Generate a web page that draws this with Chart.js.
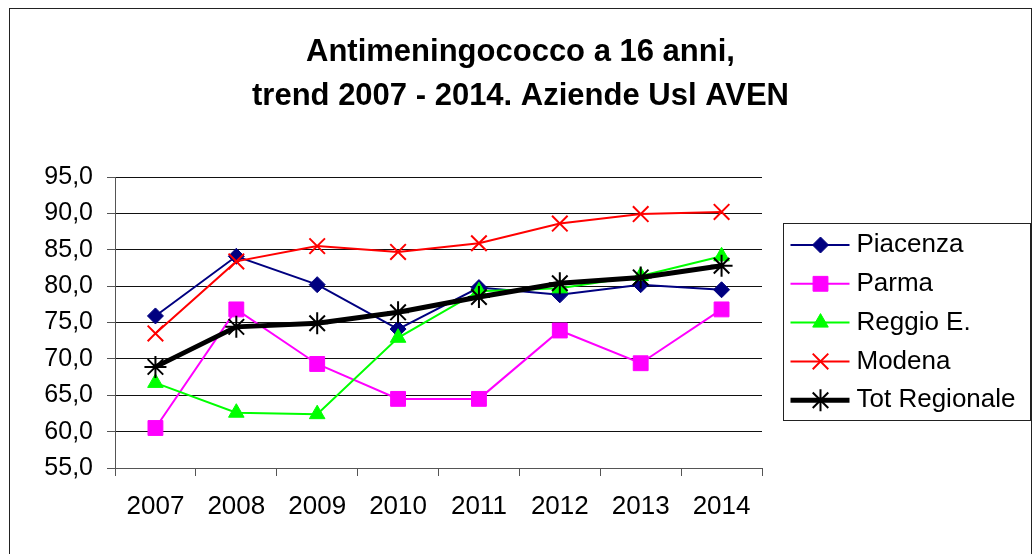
<!DOCTYPE html>
<html lang="it">
<head>
<meta charset="UTF-8">
<title>Antimeningococco a 16 anni - trend 2007-2014</title>
<script src="https://cdn.jsdelivr.net/npm/chart.js@4"></script>
<style>
    html, body {
        margin: 0;
        padding: 0;
        background: #fff;
    }
</style>
</head>
<body>
<canvas id="trendChart" width="1035" height="554"></canvas>
<script>
    // Copertura (%) per anno
    const years = ['2007', '2008', '2009', '2010', '2011', '2012', '2013', '2014'];
    const piacenza = [75.9, 84.1, 80.2, 74.1, 79.8, 78.8, 80.2, 79.5];
    const parma = [60.5, 76.8, 69.3, 64.5, 64.5, 73.9, 69.4, 76.8];
    const reggio = [66.7, 62.6, 62.4, 72.9, 79.3, 79.7, 81.4, 84.1];
    const modena = [73.5, 83.4, 85.5, 84.7, 85.9, 88.6, 89.9, 90.2];
    const totRegionale = [68.9, 74.4, 74.9, 76.4, 78.5, 80.4, 81.2, 82.8];
    const yTicks = [55, 60, 65, 70, 75, 80, 85, 90, 95];

    const FONT = '"Liberation Sans", Arial, sans-serif';

    // Boxed legend on the right: reserves its own column in the layout
    const boxLegend = {
        id: 'boxLegend',
        beforeInit(chart) {
            const box = {
                position: 'right',
                weight: 1000,
                fullSize: false,
                options: {},
                isHorizontal() { return false; },
                update(maxWidth, maxHeight) {
                    this.width = 269;
                    this.height = maxHeight;
                },
                draw() { drawLegend(chart, this); }
            };
            Chart.layouts.addBox(chart, box);
        },
        beforeDraw(chart) {
            // outer frame of the chart object
            const ctx = chart.ctx;
            ctx.save();
            ctx.strokeStyle = '#222';
            ctx.lineWidth = 1;
            ctx.strokeRect(9.5, 8.5, 1022, 600);
            ctx.restore();
        }
    };

    function drawLegend(chart, box) {
        const ctx = chart.ctx;
        const left = box.left + 21.5;
        const top = box.top + 46.5;
        ctx.save();
        ctx.strokeStyle = '#222';
        ctx.lineWidth = 1;
        ctx.strokeRect(left, top, 247, 197);
        ctx.font = '26px ' + FONT;
        ctx.textBaseline = 'middle';
        chart.data.datasets.forEach((ds, i) => {
            const y = top + 21.5 + i * 38.8;
            ctx.strokeStyle = ds.borderColor;
            ctx.lineWidth = ds.borderWidth;
            ctx.beginPath();
            ctx.moveTo(left + 7, y);
            ctx.lineTo(left + 66, y);
            ctx.stroke();
            ctx.fillStyle = ds.backgroundColor;
            ctx.lineWidth = ds.pointBorderWidth;
            Chart.helpers.drawPoint(ctx, {
                pointStyle: ds.pointStyle,
                radius: ds.pointRadius,
                borderWidth: ds.pointBorderWidth,
                rotation: 0
            }, left + 37, y);
            ctx.fillStyle = '#000';
            ctx.fillText(ds.label, left + 73, y);
        });
        ctx.restore();
    }

    new Chart(document.getElementById('trendChart'), {
        type: 'line',
        data: {
            labels: years,
            datasets: [
                {
                    label: 'Piacenza', data: piacenza,
                    borderColor: '#000080', backgroundColor: '#000080', borderWidth: 2,
                    pointStyle: 'rectRot', pointRadius: 8, pointBorderWidth: 1, order: 5
                },
                {
                    label: 'Parma', data: parma,
                    borderColor: '#ff00ff', backgroundColor: '#ff00ff', borderWidth: 2,
                    pointStyle: 'rect', pointRadius: 10.5, pointBorderWidth: 1, order: 4
                },
                {
                    label: 'Reggio E.', data: reggio,
                    borderColor: '#00ff00', backgroundColor: '#00ff00', borderWidth: 2,
                    pointStyle: 'triangle', pointRadius: 9, pointBorderWidth: 1, order: 3
                },
                {
                    label: 'Modena', data: modena,
                    borderColor: '#ff0000', backgroundColor: '#ff0000', borderWidth: 2,
                    pointStyle: 'crossRot', pointRadius: 11, pointBorderWidth: 2, order: 2
                },
                {
                    label: 'Tot Regionale', data: totRegionale,
                    borderColor: '#000', backgroundColor: '#000', borderWidth: 5,
                    pointStyle: 'star', pointRadius: 11, pointBorderWidth: 2, order: 1
                }
            ]
        },
        options: {
            responsive: false,
            animation: false,
            events: [],
            layout: {
                padding: { left: 10, right: 4, top: 0, bottom: 0 }
            },
            plugins: {
                legend: { display: false },
                tooltip: { enabled: false },
                title: {
                    display: true,
                    text: ['Antimeningococco a 16 anni,', 'trend 2007 - 2014. Aziende Usl AVEN'],
                    color: '#000',
                    font: { family: FONT, size: 31, weight: 'bold', lineHeight: 44 / 31 },
                    padding: { top: 30, bottom: 59 }
                }
            },
            scales: {
                x: {
                    offset: true,
                    afterFit(scale) { scale.height = 86; },
                    grid: { offset: true, drawOnChartArea: false, tickLength: 8, tickColor: '#555' },
                    border: { color: '#555' },
                    ticks: {
                        color: '#000',
                        padding: 15,
                        maxRotation: 0,
                        font: { family: FONT, size: 26 }
                    }
                },
                y: {
                    min: yTicks[0],
                    max: yTicks[yTicks.length - 1],
                    afterFit(scale) { scale.width = 105; },
                    grid: { color: '#111', tickLength: 8, tickColor: '#555' },
                    border: { color: '#555' },
                    ticks: {
                        stepSize: yTicks[1] - yTicks[0],
                        color: '#000',
                        padding: 14,
                        font: { family: FONT, size: 25 },
                        callback: (v) => v.toFixed(1).replace('.', ',')
                    }
                }
            }
        },
        plugins: [boxLegend]
    });
</script>
</body>
</html>
